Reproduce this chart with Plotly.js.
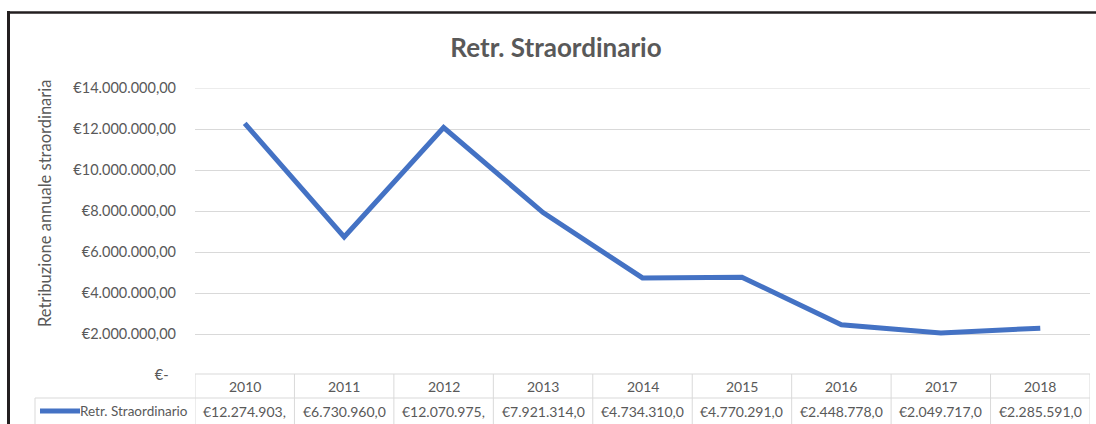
<!DOCTYPE html>
<html>
<head>
<meta charset="utf-8">
<script src="https://cdn.plot.ly/plotly-3.0.1.min.js"></script>
<style>html,body{margin:0;padding:0;background:#fff;}</style>
</head>
<body>
<div id="chart" style="width:1096px;height:424px;"></div>
<script>
// ---- data ----
const years = ["2010","2011","2012","2013","2014","2015","2016","2017","2018"];
const retrStraordinario = [12274903, 6730960, 12070975, 7921314, 4734310, 4770291, 2448778, 2049717, 2285591];
const seriesName = "Retr. Straordinario";
const yTickVals = [0, 2000000, 4000000, 6000000, 8000000, 10000000, 12000000, 14000000];
const chartTitle = "Retr. Straordinario";
const yTitle = "Retribuzione annuale straordinaria";

// ---- helpers ----
function itNum(v){ return Math.round(v).toString().replace(/\B(?=(\d{3})+(?!\d))/g, "."); }
function euro(v){ return v === 0 ? "€-\u00a0\u00a0" : "€" + itNum(v) + ",00"; }
function cellText(v){ return ("€" + itNum(v) + ",00").slice(0, 12); }

const W = 1096, H = 424;
const L = 195, R = 1090, T = 88, B = 375;
const px2x = px => (px - L) / (R - L);
const px2y = py => (B - py) / (B - T);

const FONT = "Lato, 'Liberation Sans', sans-serif";
const GREY = "#595959";
const GRID = "#d9d9d9";
const BLUE = "#4472c4";
const yMax = yTickVals[yTickVals.length - 1];

const shapes = [];
const annotations = [];

// frame
shapes.push({type:"line", xref:"paper", yref:"paper", x0:px2x(8.5), x1:px2x(8.5), y0:px2y(11), y1:px2y(430), line:{color:"#231f20", width:3}});
shapes.push({type:"line", xref:"paper", yref:"paper", x0:px2x(7), x1:px2x(1100), y0:px2y(12.5), y1:px2y(12.5), line:{color:"#231f20", width:2.5}});

// top gridline (Plotly drops the one on the plot edge)
shapes.push({type:"line", xref:"paper", yref:"y", x0:0, x1:1, y0:yMax, y1:yMax, line:{color:GRID, width:1}, layer:"below"});

// data table grid
const yHeadTop = px2y(374), yDiv = px2y(398), yBot = px2y(426);
shapes.push({type:"line", xref:"paper", yref:"paper", x0:0, x1:1, y0:yHeadTop, y1:yHeadTop, line:{color:GRID, width:1}});
shapes.push({type:"line", xref:"paper", yref:"paper", x0:px2x(35), x1:1, y0:yDiv, y1:yDiv, line:{color:GRID, width:1}});
for (let i = 0; i <= years.length; i++) {
  shapes.push({type:"line", xref:"x", yref:"paper", x0:i-0.5, x1:i-0.5, y0:yHeadTop, y1:yBot, line:{color:GRID, width:1}});
}
shapes.push({type:"line", xref:"paper", yref:"paper", x0:px2x(35), x1:px2x(35), y0:yDiv, y1:yBot, line:{color:GRID, width:1}});
// legend key in table
shapes.push({type:"line", xref:"paper", yref:"paper", x0:px2x(40), x1:px2x(80), y0:px2y(411), y1:px2y(411), line:{color:BLUE, width:5}});

years.forEach((yr, i) => {
  annotations.push({xref:"paper", yref:"paper", x:(i + 0.5) / years.length, y:px2y(386), text:yr, showarrow:false, xanchor:"center", yanchor:"middle", font:{family:FONT, size:14, color:GREY}});
  annotations.push({xref:"paper", yref:"paper", x:(i + 0.5) / years.length, y:px2y(411), text:cellText(retrStraordinario[i]), showarrow:false, xanchor:"center", yanchor:"middle", font:{family:FONT, size:14, color:GREY}});
});
annotations.push({xref:"paper", yref:"paper", x:px2x(190), y:px2y(411), text:seriesName, showarrow:false, xanchor:"right", yanchor:"middle", font:{family:FONT, size:13.5, color:GREY}});
// y axis title
annotations.push({xref:"paper", yref:"paper", x:px2x(45), y:px2y(204), text:yTitle, textangle:-90, showarrow:false, xanchor:"center", yanchor:"middle", font:{family:FONT, size:16.5, color:GREY}});

const trace = {
  type:"scatter", mode:"lines", x:years, y:retrStraordinario, name:seriesName,
  line:{color:BLUE, width:5}, hoverinfo:"none"
};

const layout = {
  width:W, height:H, autosize:false,
  margin:{l:L, r:W-R, t:T, b:H-B, pad:0},
  paper_bgcolor:"#ffffff", plot_bgcolor:"#ffffff",
  showlegend:false,
  title:{text:"<b>" + chartTitle + "</b>", xref:"container", yref:"container", x:556/W, y:1-48/H, xanchor:"center", yanchor:"middle", font:{family:FONT, size:26, color:GREY}},
  xaxis:{type:"category", range:[-0.5, years.length-0.5], showticklabels:false, showgrid:false, zeroline:false, showline:false, ticks:""},
  yaxis:{range:[0, yMax], tickvals:yTickVals, ticktext:yTickVals.map(euro), showgrid:true, gridcolor:GRID, gridwidth:1, zeroline:false, showline:false, ticks:"", ticklabelstandoff:18, tickfont:{family:FONT, size:14.5, color:GREY}},
  shapes:shapes, annotations:annotations
};

Plotly.newPlot("chart", [trace], layout, {staticPlot:true, displayModeBar:false});
</script>
</body>
</html>
